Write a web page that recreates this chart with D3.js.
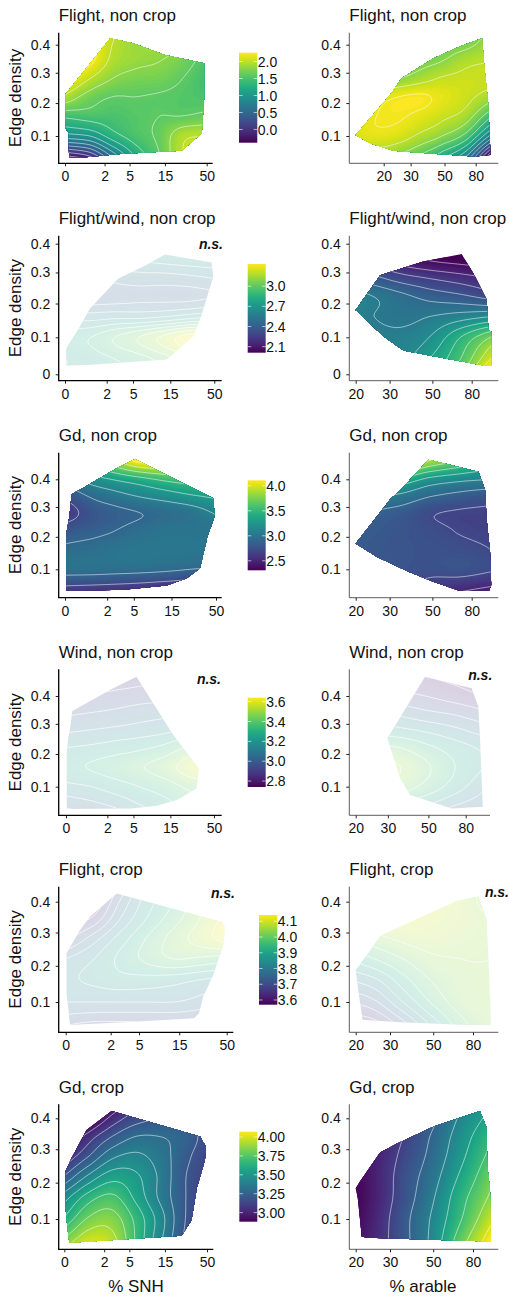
<!DOCTYPE html>
<html>
<head>
<meta charset="utf-8">
<style>
  html, body { margin: 0; padding: 0; background: #fff; }
  text { font-family: "Liberation Sans", Arial, sans-serif; }
</style>
</head>
<body>
<div id="chart"></div>
<script src="https://cdnjs.cloudflare.com/ajax/libs/d3/7.9.0/d3.min.js"></script>
<script>
// axis ticks
var snhTicks = [0, 2, 5, 15, 50]
var arableTicks = [20, 30, 50, 80]
var densityTicks = [0.1, 0.2, 0.3, 0.4]
var densityTicksZero = [0, 0.1, 0.2, 0.3, 0.4]

// where the surface values below were read: columns and rows
var snhCols = [0, 1, 2.7, 6, 13, 25, 50]
var arableCols = [13, 18, 25, 35, 48, 70, 100]
var densityRows = [0.04, 0.1, 0.16, 0.22, 0.28, 0.34, 0.4, 0.46]

// legend ticks, one per row of panels
var legendTicks1 = [0, 0.5, 1, 1.5, 2]
var legendTicks2 = [2.1, 2.4, 2.7, 3]
var legendTicks3 = [2.5, 3, 3.5, 4]
var legendTicks4 = [2.8, 3, 3.2, 3.4, 3.6]
var legendTicks5 = [3.6, 3.7, 3.8, 3.9, 4, 4.1]
var legendTicks6 = [3, 3.25, 3.5, 3.75, 4]

// legend limits
var legendRange1 = [-0.39, 2.26]
var legendRange2 = [2.01, 3.33]
var legendRange3 = [2.31, 4.11]
var legendRange4 = [2.74, 3.64]
var legendRange5 = [3.57, 4.14]
var legendRange6 = [2.88, 4.07]

// surfaces, rows from low to high edge density
var flightNonCropSnh = [
  [-0.3, -0.05, 0.6, 1.2, 1.6, 2.0, 2.1],
  [0.9, 1.0, 1.3, 1.5, 1.65, 1.95, 2.0],
  [1.45, 1.5, 1.5, 1.55, 1.6, 1.6, 1.65],
  [1.95, 1.7, 1.6, 1.6, 1.58, 1.55, 1.5],
  [2.3, 2.0, 1.8, 1.72, 1.7, 1.6, 1.45],
  [2.4, 2.25, 1.95, 1.85, 1.8, 1.7, 1.5],
  [2.5, 2.3, 2.0, 1.87, 1.87, 1.8, 1.6],
  [2.5, 2.35, 2.05, 1.9, 1.9, 1.85, 1.7]
]
var flightNonCropArable = [
  [1.8, 1.85, 1.75, 1.55, 1.25, 0.75, -0.45],
  [2.1, 2.15, 2.1, 1.95, 1.8, 1.5, 0.75],
  [2.1, 2.2, 2.22, 2.15, 2.05, 1.9, 1.45],
  [1.9, 2.1, 2.2, 2.23, 2.15, 2.05, 1.9],
  [1.5, 1.7, 1.8, 1.92, 2.02, 2.05, 2.05],
  [1.2, 1.4, 1.55, 1.7, 1.8, 1.95, 2.0],
  [1.0, 1.2, 1.35, 1.5, 1.65, 1.75, 1.9],
  [0.9, 1.05, 1.2, 1.35, 1.5, 1.65, 1.8]
]
var flightWindSnh = [
  [2.75, 2.8, 2.85, 2.9, 3.0, 3.1, 3.15],
  [2.8, 2.85, 2.95, 3.05, 3.18, 3.3, 3.33],
  [2.6, 2.6, 2.62, 2.62, 2.65, 2.7, 2.75],
  [2.35, 2.38, 2.4, 2.42, 2.42, 2.42, 2.45],
  [2.35, 2.4, 2.48, 2.5, 2.5, 2.52, 2.55],
  [2.5, 2.55, 2.62, 2.65, 2.68, 2.7, 2.72],
  [2.6, 2.65, 2.72, 2.75, 2.78, 2.8, 2.82],
  [2.7, 2.75, 2.82, 2.85, 2.88, 2.9, 2.92]
]
var flightWindArable = [
  [2.7, 2.65, 2.6, 2.62, 2.75, 2.95, 3.25],
  [2.6, 2.6, 2.58, 2.58, 2.65, 2.85, 3.05],
  [2.6, 2.6, 2.55, 2.52, 2.55, 2.6, 2.65],
  [2.65, 2.62, 2.55, 2.48, 2.42, 2.38, 2.32],
  [2.5, 2.45, 2.38, 2.3, 2.25, 2.2, 2.15],
  [2.3, 2.25, 2.2, 2.1, 2.05, 2.02, 2.0],
  [2.2, 2.15, 2.08, 2.0, 1.98, 1.95, 1.95],
  [2.1, 2.05, 2.0, 1.95, 1.92, 1.9, 1.9]
]
var gdNonCropSnh = [
  [2.62, 2.6, 2.58, 2.55, 2.5, 2.45, 2.4],
  [2.97, 2.97, 2.96, 2.95, 2.93, 2.9, 2.87],
  [2.93, 2.96, 3.0, 3.02, 3.02, 3.02, 3.0],
  [2.8, 2.85, 2.9, 2.96, 3.0, 3.0, 3.0],
  [2.6, 2.78, 2.85, 2.9, 2.95, 3.0, 3.12],
  [2.75, 2.93, 3.03, 3.12, 3.2, 3.28, 3.35],
  [3.0, 3.2, 3.32, 3.43, 3.55, 3.62, 3.7],
  [3.3, 3.55, 3.8, 4.05, 4.1, 4.1, 4.1]
]
var gdNonCropArable = [
  [2.9, 2.9, 2.85, 2.8, 2.6, 2.52, 2.45],
  [2.95, 2.9, 2.85, 2.78, 2.75, 2.77, 2.72],
  [2.9, 2.85, 2.8, 2.78, 2.76, 2.74, 2.7],
  [2.95, 2.88, 2.82, 2.78, 2.74, 2.69, 2.66],
  [3.05, 2.98, 2.88, 2.82, 2.72, 2.68, 2.67],
  [3.3, 3.22, 3.15, 3.05, 2.92, 2.84, 2.78],
  [3.8, 3.7, 3.6, 3.45, 3.25, 3.15, 3.1],
  [4.2, 4.15, 4.1, 4.05, 3.8, 3.6, 3.4]
]
var windSnh = [
  [3.0, 3.05, 3.1, 3.18, 3.25, 3.32, 3.35],
  [3.17, 3.2, 3.25, 3.3, 3.35, 3.42, 3.47],
  [3.27, 3.31, 3.35, 3.39, 3.45, 3.55, 3.6],
  [3.2, 3.22, 3.25, 3.28, 3.33, 3.42, 3.47],
  [3.08, 3.1, 3.12, 3.14, 3.17, 3.22, 3.25],
  [2.98, 3.0, 3.02, 3.05, 3.07, 3.1, 3.12],
  [2.9, 2.91, 2.93, 2.95, 2.97, 3.0, 3.02],
  [2.82, 2.83, 2.85, 2.87, 2.9, 2.92, 2.95]
]
var windArable = [
  [3.4, 3.35, 3.3, 3.25, 3.18, 3.08, 3.02],
  [3.5, 3.5, 3.48, 3.45, 3.37, 3.25, 3.12],
  [3.6, 3.58, 3.56, 3.5, 3.42, 3.3, 3.2],
  [3.45, 3.43, 3.42, 3.4, 3.33, 3.25, 3.18],
  [3.3, 3.28, 3.26, 3.22, 3.18, 3.12, 3.05],
  [3.18, 3.15, 3.12, 3.07, 3.02, 2.98, 2.92],
  [3.05, 3.0, 2.97, 2.93, 2.9, 2.85, 2.8],
  [2.95, 2.9, 2.88, 2.85, 2.82, 2.78, 2.75]
]
var flightCropSnh = [
  [3.7, 3.68, 3.68, 3.68, 3.68, 3.68, 3.68],
  [3.8, 3.8, 3.8, 3.8, 3.8, 3.78, 3.75],
  [3.84, 3.86, 3.88, 3.88, 3.87, 3.85, 3.83],
  [3.8, 3.85, 3.91, 3.96, 4.0, 3.99, 3.97],
  [3.68, 3.78, 3.87, 3.95, 4.02, 4.07, 4.12],
  [3.6, 3.67, 3.8, 3.9, 3.98, 4.05, 4.12],
  [3.55, 3.6, 3.75, 3.87, 3.95, 4.02, 4.1],
  [3.5, 3.55, 3.7, 3.85, 3.93, 4.0, 4.08]
]
var flightCropArable = [
  [3.6, 3.6, 3.62, 3.72, 3.85, 3.98, 4.04],
  [3.7, 3.7, 3.74, 3.85, 3.95, 4.03, 4.05],
  [3.78, 3.8, 3.84, 3.93, 4.0, 4.04, 4.05],
  [3.87, 3.9, 3.95, 4.0, 4.04, 4.05, 4.05],
  [3.97, 4.0, 4.03, 4.06, 4.07, 4.06, 4.05],
  [4.05, 4.08, 4.1, 4.1, 4.09, 4.07, 4.05],
  [4.08, 4.1, 4.12, 4.12, 4.1, 4.07, 4.03],
  [4.08, 4.1, 4.12, 4.12, 4.1, 4.07, 4.03]
]
var gdCropSnh = [
  [3.85, 4.0, 3.95, 3.7, 3.42, 3.2, 3.05],
  [3.62, 3.82, 3.85, 3.68, 3.45, 3.22, 3.08],
  [3.45, 3.65, 3.72, 3.58, 3.38, 3.22, 3.08],
  [3.2, 3.42, 3.55, 3.52, 3.38, 3.22, 3.1],
  [3.0, 3.2, 3.37, 3.42, 3.35, 3.24, 3.13],
  [2.85, 3.05, 3.2, 3.3, 3.3, 3.26, 3.16],
  [2.7, 2.85, 3.03, 3.15, 3.2, 3.2, 3.15],
  [2.55, 2.7, 2.88, 3.05, 3.1, 3.15, 3.12]
]
var gdCropArable = [
  [2.8, 2.9, 3.02, 3.2, 3.42, 3.8, 4.1],
  [2.75, 2.86, 3.0, 3.2, 3.4, 3.7, 3.98],
  [2.75, 2.85, 2.98, 3.17, 3.36, 3.65, 3.88],
  [2.78, 2.86, 2.98, 3.16, 3.32, 3.58, 3.82],
  [2.8, 2.87, 2.98, 3.13, 3.28, 3.52, 3.75],
  [2.82, 2.88, 2.98, 3.1, 3.25, 3.48, 3.68],
  [2.85, 2.9, 3.0, 3.08, 3.2, 3.43, 3.6],
  [2.87, 2.92, 3.0, 3.05, 3.15, 3.38, 3.55]
]

// outline of the sampled landscapes: [x value, edge density]
var hullFlightNonCropSnh = [[2.5, .424], [5.6, .405], [15, .362], [46.7, .333], [46.7, .22], [43.5, .108], [24.5, .058], [10.1, .054], [3.6, .049], [.79, .04], [.12, .04], [.1, .11], [.02, .122], [.02, .229]]
var hullFlightNonCropArable = [[13.1, .103], [22, .226], [26.2, .281], [42.1, .35], [62.9, .393], [88.3, .424], [90.3, .344], [96.6, .199], [100, .046], [78.7, .042], [44.2, .049], [23.1, .058], [16.3, .079]]
var hullFlightWindSnh = [[12.9, .362], [46.6, .334], [48.6, .286], [35.5, .165], [28.3, .102], [13.6, .039], [.85, .024], [.03, .023], [.03, .069], [.48, .131], [.93, .185], [3.07, .28], [6.9, .32]]
var hullFlightWindArable = [[20, .18], [26.8, .291], [44.9, .337], [71, .363], [82.6, .291], [95.7, .211], [97.7, .121], [101, .116], [101, .022], [92, .023], [54.8, .044], [35.4, .063], [27.9, .102]]
var hullGdNonCropSnh = [[5.2, .477], [46.6, .331], [48.3, .267], [39.8, .201], [32.6, .103], [22.8, .074], [13.1, .053], [3.56, .041], [.03, .038], [.03, .206], [.12, .267], [.19, .346], [.48, .361], [2.84, .442]]
var hullGdNonCropArable = [[20, .179], [30.1, .325], [36.8, .385], [47.7, .475], [59.3, .459], [86.7, .429], [93.8, .361], [95.7, .256], [99.6, .153], [101, .055], [98.4, .038], [69.6, .038], [50.6, .064], [37.6, .093], [25.7, .138]]
var hullWindSnh = [[5.5, .474], [16.3, .262], [33.2, .155], [31.2, .095], [18, .062], [10.1, .046], [4.7, .038], [.02, .037], [.02, .202], [.06, .251], [.13, .296], [.18, .345], [2.5, .429]]
var hullWindArable = [[47.9, .474], [86.3, .429], [93.8, .361], [95.8, .251], [99.2, .043], [67.1, .038], [39.7, .076], [35, .125], [29.8, .251], [38, .361]]
var hullFlightCropSnh = [[2.47, .428], [44.4, .334], [48, .316], [46.6, .267], [35.7, .174], [27.7, .114], [24.9, .07], [22, .058], [4.2, .049], [.11, .041], [.07, .079], [.02, .123], [.02, .237], [.42, .308], [.81, .35]]
var hullFlightCropArable = [[20, .187], [23.7, .245], [26.7, .29], [44.5, .353], [65.9, .402], [85.2, .419], [94, .342], [97.8, .123], [98.9, .041], [74.2, .041], [33.8, .048], [21.7, .054], [20.6, .132]]
var hullGdCropSnh = [[2.69, .425], [41.1, .34], [48.5, .308], [47.2, .267], [37.5, .184], [32.3, .097], [24.3, .057], [5.7, .049], [.15, .039], [.09, .076], [.04, .124], [.04, .234], [.22, .272], [.85, .361]]
var hullGdCropArable = [[20, .184], [21, .203], [26.7, .29], [32.5, .317], [50, .372], [86.9, .425], [94, .367], [94.7, .252], [97.8, .179], [98.9, .042], [54.1, .046], [23.2, .052], [21.5, .054], [20.5, .156]]

/**
 * 版面 layout of each panel
 */
var width = 509
var height = 1298

var rows = [
  { title: 'Flight, non crop', top: 32.7, bottom: 163.3, y01: 136, y04: 44.7, yTicks: densityTicks,
    legend: { x: 239, w: 18.3, y: 52.7, h: 90, range: legendRange1, ticks: legendTicks1, format: '.1f' }, level: [-0.4, 2.4, 0.2] },
  { title: 'Flight/wind, non crop', top: 235.7, bottom: 380.7, y01: 337.3, y04: 243.7, yTicks: densityTicksZero,
    legend: { x: 247.7, w: 18, y: 264, h: 88.7, range: legendRange2, ticks: legendTicks2, format: '.1f' }, level: [2.05, 3.4, 0.1] },
  { title: 'Gd, non crop', top: 452.7, bottom: 597.7, y01: 569.3, y04: 479.3, yTicks: densityTicks,
    legend: { x: 247.7, w: 18, y: 480.3, h: 90, range: legendRange3, ticks: legendTicks3, format: '.1f' }, level: [2.5, 4.2, 0.2] },
  { title: 'Wind, non crop', top: 669.3, bottom: 815.3, y01: 786.7, y04: 696, yTicks: densityTicks,
    legend: { x: 247.7, w: 18, y: 697.7, h: 89.3, range: legendRange4, ticks: legendTicks4, format: '.1f' }, level: [2.8, 3.7, 0.1] },
  { title: 'Flight, crop', top: 886.7, bottom: 1032.3, y01: 1002, y04: 901.7, yTicks: densityTicks,
    legend: { x: 259, w: 18.3, y: 915, h: 89.7, range: legendRange5, ticks: legendTicks5, format: '.1f' }, level: [3.6, 4.15, 0.05] },
  { title: 'Gd, crop', top: 1104.3, bottom: 1249.3, y01: 1219, y04: 1118.3, yTicks: densityTicks,
    legend: { x: 239.3, w: 18, y: 1131.7, h: 90, range: legendRange6, ticks: legendTicks6, format: '.2f' }, level: [2.9, 4.1, 0.1] }
]

var panels = [
  { row: 0, side: 'snh', values: flightNonCropSnh, hull: hullFlightNonCropSnh, x0: 65, x1: 206.7, right: 212.7 },
  { row: 0, side: 'arable', values: flightNonCropArable, hull: hullFlightNonCropArable, x0: 383.7, x1: 475.7, right: 498.3 },
  { row: 1, side: 'snh', values: flightWindSnh, hull: hullFlightWindSnh, x0: 65, x1: 214.3, right: 221.7, ns: [223, 249] },
  { row: 1, side: 'arable', values: flightWindArable, hull: hullFlightWindArable, x0: 355.7, x1: 471.7, right: 498.3 },
  { row: 2, side: 'snh', values: gdNonCropSnh, hull: hullGdNonCropSnh, x0: 65, x1: 216, right: 221.7 },
  { row: 2, side: 'arable', values: gdNonCropArable, hull: hullGdNonCropArable, x0: 355.7, x1: 471.7, right: 498.3 },
  { row: 3, side: 'snh', values: windSnh, hull: hullWindSnh, x0: 66, x1: 214, right: 221.7, ns: [221, 684.3] },
  { row: 3, side: 'arable', values: windArable, hull: hullWindArable, x0: 355.7, x1: 465.7, right: 490, ns: [492.3, 680] },
  { row: 4, side: 'snh', values: flightCropSnh, hull: hullFlightCropSnh, x0: 65.7, x1: 226.7, right: 233.3, ns: [235, 898] },
  { row: 4, side: 'arable', values: flightCropArable, hull: hullFlightCropArable, x0: 355.7, x1: 473, right: 498.3, ns: [509, 897] },
  { row: 5, side: 'snh', values: gdCropSnh, hull: hullGdCropSnh, x0: 64.3, x1: 207, right: 213.3, xTitle: '% SNH', xTitleAt: 136 },
  { row: 5, side: 'arable', values: gdCropArable, hull: hullGdCropArable, x0: 355.7, x1: 473, right: 498.3, xTitle: '% arable', xTitleAt: 423, level: [3.1, 4.1, 0.15] }
]

var svg = d3.select('#chart')
  .append('svg')
  .attr('width', width)
  .attr('height', height)
  .style('display', 'block')

// Catmull-Rom 插值，只用于把读到的网格画平滑
function cubic(a, b, c, d, t) {
  return b + 0.5 * t * (c - a + t * (2 * a - 5 * b + 4 * c - d + t * (3 * (b - c) + d - a)))
}

// 四个相邻值，边上用直线外推
function fourAt(get, i, n) {
  return [
    i > 0 ? get(i - 1) : 2 * get(0) - get(1),
    get(i),
    get(i + 1),
    i + 2 < n ? get(i + 2) : 2 * get(n - 1) - get(n - 2)
  ]
}

function sampleGrid(grid, fx, fy) {
  var nx = grid[0].length, ny = grid.length
  var ix = Math.max(0, Math.min(Math.floor(fx), nx - 2))
  var iy = Math.max(0, Math.min(Math.floor(fy), ny - 2))
  var tx = fx - ix, ty = fy - iy
  var rowAt = function (j) {
    var f = fourAt(i => grid[j][i], ix, nx)
    return cubic(f[0], f[1], f[2], f[3], tx)
  }
  var f = fourAt(rowAt, iy, ny)
  return cubic(f[0], f[1], f[2], f[3], ty)
}

panels.forEach(function (p, index) {
  var row = rows[p.row]
  var isSnh = p.side === 'snh'
  var left = isSnh ? 58.7 : 349.3
  var shift = isSnh ? 1 : 0
  var cols = isSnh ? snhCols : arableCols
  var xTicks = isSnh ? snhTicks : arableTicks
  var axisColor = isSnh ? '#000' : '#333'
  var axisWidth = isSnh ? 1.3 : 0.8

  // 两个轴都是对数变换 log(x + 1)
  var xScale = d3.scaleLog()
    .domain(isSnh ? [1, 51] : [20, 80])
    .range([p.x0, p.x1])
  var yScale = d3.scaleLog()
    .domain([1.1, 1.4])
    .range([row.y01, row.y04])

  var colIndex = d3.scaleLinear()
    .domain(cols.map(d => Math.log(d + shift)))
    .range(d3.range(cols.length))
  var rowIndex = d3.scaleLinear()
    .domain(densityRows.map(d => Math.log(d + 1)))
    .range(d3.range(densityRows.length))

  // raster of the surface, one cell per pixel
  var w = Math.ceil(p.right - left)
  var h = Math.ceil(row.bottom - row.top)
  var cells = new Float64Array(w * h)
  for (var j = 0; j < h; j++) {
    var fy = rowIndex(Math.log(yScale.invert(row.top + j + 0.5)))
    for (var i = 0; i < w; i++) {
      var fx = colIndex(Math.log(xScale.invert(left + i + 0.5)))
      cells[j * w + i] = sampleGrid(p.values, fx, fy)
    }
  }

  var range = row.legend.range
  var color = d3.scaleSequential(d3.interpolateViridis).domain(range)
  var bands = d3.range(90).map(i => range[0] + i * (range[1] - range[0]) / 90)
  var bandStep = bands[1] - bands[0]
  var contours = d3.contours().size([w, h])
  var geo = d3.geoPath()

  var clipId = 'hull' + index
  svg.append('clipPath')
    .attr('id', clipId)
    .append('path')
    .attr('d', d3.line()(p.hull.map(d => [xScale(d[0] + shift), yScale(d[1] + 1)])) + 'Z')

  var clipped = svg.append('g').attr('clip-path', `url(#${clipId})`)
  var surface = clipped.append('g')
    .attr('transform', `translate(${left},${row.top})`)
    .attr('opacity', p.ns ? 0.2 : 1)

  surface.append('rect')
    .attr('width', w)
    .attr('height', h)
    .attr('fill', color(range[0]))

  surface.selectAll('path')
    .data(contours.thresholds(bands)(cells))
    .enter()
    .append('path')
    .attr('d', geo)
    .attr('fill', d => color(d.value + bandStep / 2))

  // 等值线
  var lines = clipped.append('g')
    .attr('transform', `translate(${left},${row.top})`)
  var level = p.level || row.level
  var levels = d3.range(level[0], level[1], level[2])
  lines.selectAll('path')
    .data(contours.thresholds(levels)(cells))
    .enter()
    .append('path')
    .attr('d', geo)
    .attr('fill', 'none')
    .attr('stroke', '#fff')
    .attr('stroke-opacity', p.ns ? 0.75 : 0.55)
    .attr('stroke-width', 1)

  /**
   * axes
   */
  var xAxis = d3.axisBottom(xScale)
    .tickValues(xTicks.map(d => d + shift))
    .tickFormat(d => Math.round(d - shift))
    .tickSize(3)
    .tickPadding(5)
  var yAxis = d3.axisLeft(yScale)
    .tickValues(row.yTicks.map(d => d + 1))
    .tickFormat(d => Math.abs(d - 1) < 1e-6 ? '0' : (d - 1).toFixed(1))
    .tickSize(3)
    .tickPadding(5.5)

  var gx = svg.append('g')
    .attr('transform', `translate(0,${row.bottom})`)
    .call(xAxis)
  var gy = svg.append('g')
    .attr('transform', `translate(${left},0)`)
    .call(yAxis)

  ;[gx, gy].forEach(function (g) {
    g.attr('font-size', null).attr('font-family', null)
    g.select('.domain').remove()
    g.selectAll('line').attr('stroke', '#222').attr('stroke-width', 1)
    g.selectAll('text').attr('fill', '#111').attr('font-size', '14px')
  })

  svg.append('path')
    .attr('d', d3.line()([[left, row.top], [left, row.bottom], [p.right, row.bottom]]))
    .attr('fill', 'none')
    .attr('stroke', axisColor)
    .attr('stroke-width', axisWidth)

  // 标题
  svg.append('text')
    .text(row.title)
    .attr('x', left)
    .attr('y', row.top - 11.7)
    .attr('fill', '#111')
    .attr('font-size', '17px')

  if (isSnh) {
    svg.append('text')
      .text('Edge density')
      .attr('transform', `translate(20.7,${(row.top + row.bottom) / 2}) rotate(-90)`)
      .attr('text-anchor', 'middle')
      .attr('fill', '#111')
      .attr('font-size', '17px')
  }

  if (p.xTitle) {
    svg.append('text')
      .text(p.xTitle)
      .attr('x', p.xTitleAt)
      .attr('y', 1292)
      .attr('text-anchor', 'middle')
      .attr('fill', '#111')
      .attr('font-size', '17px')
  }

  if (p.ns) {
    svg.append('text')
      .text('n.s.')
      .attr('x', p.ns[0])
      .attr('y', p.ns[1])
      .attr('text-anchor', 'end')
      .attr('font-size', '14px')
      .attr('font-weight', 'bold')
      .attr('font-style', 'italic')
      .attr('fill', '#111')
  }
})

/**
 * legends
 */
var defs = svg.append('defs')
var viridisStops = d3.range(0, 1.0001, 0.05)
rows.forEach(function (row, index) {
  var lg = row.legend
  var gradId = 'bar' + index
  var grad = defs.append('linearGradient')
    .attr('id', gradId)
    .attr('x1', 0).attr('y1', 1).attr('x2', 0).attr('y2', 0)
  grad.selectAll('stop')
    .data(viridisStops)
    .enter()
    .append('stop')
    .attr('offset', d => d)
    .attr('stop-color', d => d3.interpolateViridis(d))

  var scale = d3.scaleLinear().domain(lg.range).range([lg.y + lg.h, lg.y])
  var g = svg.append('g')

  g.append('rect')
    .attr('x', lg.x)
    .attr('y', lg.y)
    .attr('width', lg.w)
    .attr('height', lg.h)
    .attr('fill', `url(#${gradId})`)

  var tick = g.selectAll('g.tick')
    .data(lg.ticks)
    .enter()
    .append('g')
    .attr('class', 'tick')
    .attr('transform', d => `translate(0,${scale(d)})`)
  tick.append('line')
    .attr('x1', lg.x).attr('x2', lg.x + 3.6)
    .attr('stroke', '#fff').attr('stroke-width', 0.6)
  tick.append('line')
    .attr('x1', lg.x + lg.w - 3.6).attr('x2', lg.x + lg.w)
    .attr('stroke', '#fff').attr('stroke-width', 0.6)
  tick.append('text')
    .text(d => d3.format(lg.format)(d))
    .attr('x', lg.x + lg.w + 0.5)
    .attr('dy', '0.36em')
    .attr('fill', '#111')
    .attr('font-size', '14px')
})
</script>
</body>
</html>
